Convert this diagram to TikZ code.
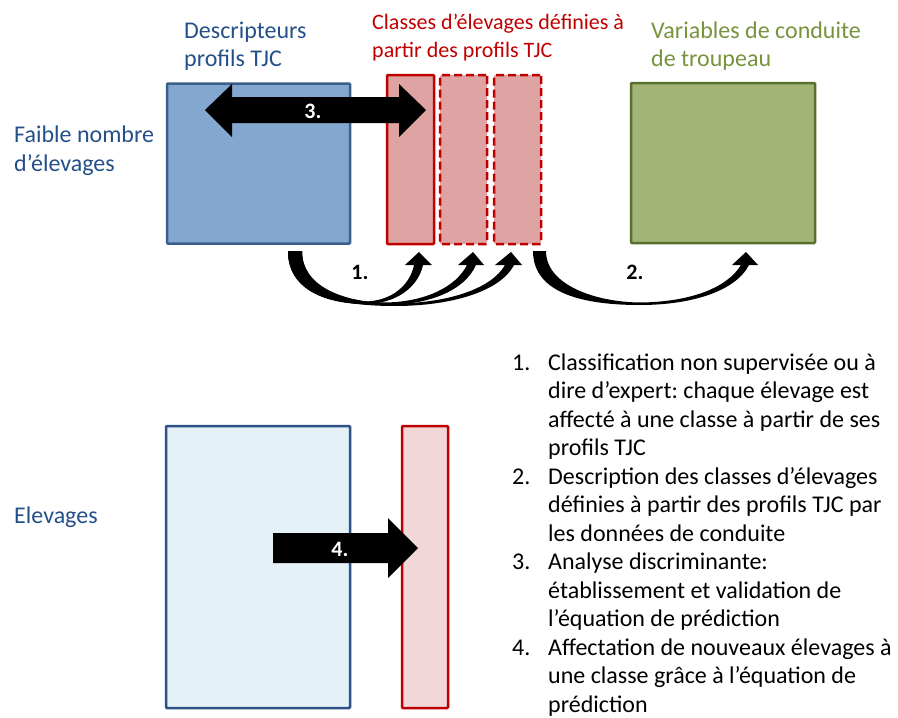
\documentclass[tikz,border=0pt]{standalone}
\usepackage{fontspec}
\setmainfont{Carlito}
\frenchspacing
\definecolor{bluefill}{HTML}{84A7CF}
\definecolor{blueline}{HTML}{3A5F8C}
\definecolor{redfill}{HTML}{DFA3A3}
\definecolor{redline}{HTML}{C00000}
\definecolor{greenfill}{HTML}{A2B576}
\definecolor{greenline}{HTML}{586F2E}
\definecolor{bluetext}{HTML}{24508A}
\definecolor{greentext}{HTML}{77933C}
\definecolor{lightblue}{HTML}{E4F1F7}
\definecolor{lightblueline}{HTML}{2E5286}
\definecolor{pinkfill}{HTML}{F2D7D8}
\tikzset{
  box/.style={draw, line width=2.5pt, inner sep=0pt, outer sep=0pt, rounded corners=1pt},
  lbl/.style={anchor=base west, inner sep=0pt, font=\fontsize{24}{28}\selectfont},
  lblsmall/.style={anchor=base west, inner sep=0pt, font=\fontsize{22}{26}\selectfont},
  num/.style={inner sep=0pt, font=\fontsize{22}{26}\selectfont\bfseries},
  bigarrow/.style={fill=black},
}
\begin{document}
\begin{tikzpicture}[x=1pt,y=-1pt]
\useasboundingbox (0,0) rectangle (898,718);
% boxes top
\node[box, draw=blueline, fill=bluefill, minimum width=183pt, minimum height=160pt] (desc) at (258.5,163.5) {};
\node[box, draw=redline, fill=redfill, minimum width=47pt, minimum height=169pt] (cl1) at (410.5,159.5) {};
\node[box, draw=redline, fill=redfill, dash pattern=on 8pt off 4pt, minimum width=47pt, minimum height=169pt] (cl2) at (463.5,159.5) {};
\node[box, draw=redline, fill=redfill, dash pattern=on 8pt off 4pt, minimum width=47pt, minimum height=169pt] (cl3) at (517.5,159.5) {};
\node[box, draw=greenline, fill=greenfill, minimum width=184pt, minimum height=160pt] (var) at (723,163) {};
% boxes bottom
\node[box, draw=lightblueline, fill=lightblue, minimum width=184pt, minimum height=282pt] (elev) at (258,567) {};
\node[box, draw=redline, fill=pinkfill, minimum width=46pt, minimum height=282pt] (cls) at (425,567) {};
% top labels
\node[lbl, text=bluetext] (t1a) at (184,38) {Descripteurs};
\node[lbl, text=bluetext] (t1b) at (184,66) {profils TJC};
\node[lblsmall, text=redline] (t2a) at (372,29) {Classes d’élevages définies à};
\node[lblsmall, text=redline] (t2b) at (372,57) {partir des profils TJC};
\node[lbl, text=greentext] (t3a) at (651,38) {Variables de conduite};
\node[lbl, text=greentext] (t3b) at (651,66) {de troupeau};
\node[lbl, text=bluetext] (f1) at (14,142) {Faible nombre};
\node[lbl, text=bluetext] (f2) at (14,171) {d’élevages};
\node[lbl, text=bluetext] (e1) at (14,523) {Elevages};
% double arrow 3
\fill[bigarrow] (205,110) -- (232,84) -- (232,97) -- (399,97) -- (399,84) -- (426,110)
  -- (399,137) -- (399,123) -- (232,123) -- (232,137) -- cycle;
\node[num, text=white] (n3) at (313,111) {3.};
% arrow 4
\fill[bigarrow] (273,533) -- (388,533) -- (388,518) -- (418,548) -- (388,578) -- (388,563) -- (273,563) -- cycle;
\node[num, text=white] (n4) at (340,549) {4.};
% curved arrows 1
\fill (288,251) .. controls (288,292) and (330,304) .. (365,304)
  .. controls (395,304) and (418,288) .. (423,265)
  -- (432,265) -- (419,252) -- (405,265) -- (414,265)
  .. controls (410,285) and (392,301) .. (365,301.5)
  .. controls (332,301) and (302,285) .. (302,251) -- cycle;
\fill (288,251) .. controls (288,295) and (335,305) .. (385,305)
  .. controls (430,305) and (465,290) .. (476,265)
  -- (484,265) -- (473,252) -- (458,265) -- (467,265)
  .. controls (456,287) and (425,302) .. (385,302.5)
  .. controls (335,302) and (302,285) .. (302,251) -- cycle;
\fill (288,251) .. controls (288,296) and (340,306) .. (395,306)
  .. controls (450,306) and (500,292) .. (514,265)
  -- (522,265) -- (511,252) -- (495,265) -- (505,265)
  .. controls (492,288) and (450,303) .. (395,303.5)
  .. controls (340,303) and (302,285) .. (302,251) -- cycle;
% curved arrow 2
\fill (533,251) .. controls (533,296) and (590,305) .. (640,305)
  .. controls (690,305) and (735,292) .. (749,265)
  -- (758,265) -- (746,252) -- (732,265) -- (741,265)
  .. controls (727,288) and (690,302) .. (640,302.5)
  .. controls (595,302) and (546,285) .. (546,251) -- cycle;
\node[num] (n1) at (360,272) {1.};
\node[num] (n2) at (635,272) {2.};
% list
\node[lbl] (k1) at (512,370) {1.};
\node[lbl] (k2) at (512,484) {2.};
\node[lbl] (k3) at (512,569.5) {3.};
\node[lbl] (k4) at (512,655) {4.};
\foreach \t [count=\i] in {{Classification non supervisée ou à},{dire d’expert: chaque élevage est},{affecté à une classe à partir de ses},{profils TJC},{Description des classes d’élevages},{définies à partir des profils TJC par},{les données de conduite},{Analyse discriminante:},{établissement et validation de},{l’équation de prédiction},{Affectation de nouveaux élevages à},{une classe grâce à l’équation de},{prédiction}}
  \node[lbl] (li\i) at (548,{370+(\i-1)*28.5}) {\t};
\end{tikzpicture}
\end{document}
